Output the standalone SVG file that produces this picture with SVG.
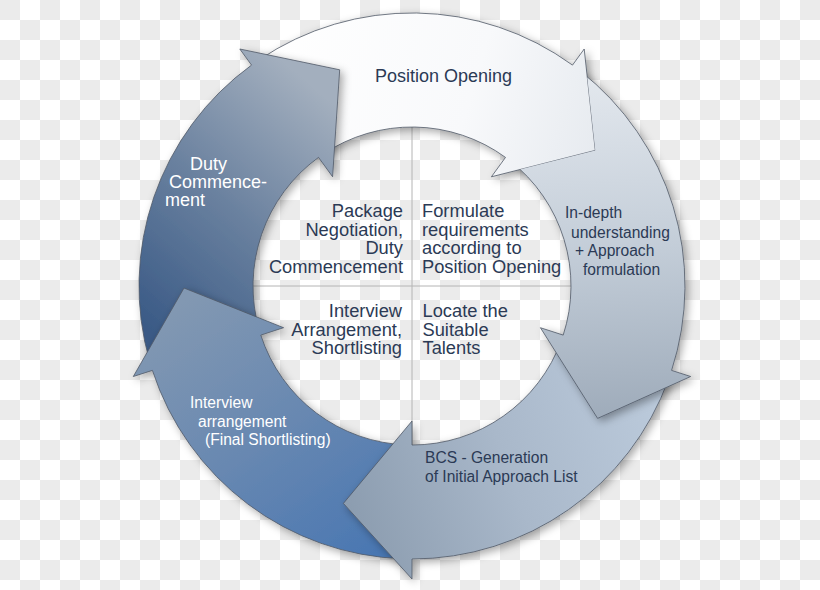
<svg xmlns="http://www.w3.org/2000/svg" width="820" height="590" viewBox="0 0 820 590">
  <defs>
    <pattern id="chk" width="40" height="40" patternUnits="userSpaceOnUse">
      <rect width="40" height="40" fill="#ffffff"/>
      <rect width="20" height="20" fill="#ebebeb"/>
      <rect x="20" y="20" width="20" height="20" fill="#ebebeb"/>
    </pattern>
    <filter id="sh" x="-20%" y="-20%" width="140%" height="140%">
      <feDropShadow dx="3" dy="3" stdDeviation="4" flood-color="#000" flood-opacity="0.35"/>
    </filter>
    <linearGradient id="gE" gradientUnits="userSpaceOnUse" x1="260" y1="60" x2="600" y2="160">
      <stop offset="0" stop-color="#ffffff"/>
      <stop offset="0.6" stop-color="#f8f9fb"/>
      <stop offset="1" stop-color="#e6eaef"/>
    </linearGradient>
    <linearGradient id="gA" gradientUnits="userSpaceOnUse" x1="600" y1="80" x2="620" y2="420">
      <stop offset="0" stop-color="#e2e7ed"/>
      <stop offset="0.5" stop-color="#c3cdd8"/>
      <stop offset="1" stop-color="#9eabba"/>
    </linearGradient>
    <linearGradient id="gB" gradientUnits="userSpaceOnUse" x1="670" y1="400" x2="340" y2="520">
      <stop offset="0" stop-color="#bccbdc"/>
      <stop offset="0.5" stop-color="#a9b8ca"/>
      <stop offset="1" stop-color="#8a9bae"/>
    </linearGradient>
    <linearGradient id="gC" gradientUnits="userSpaceOnUse" x1="200" y1="290" x2="380" y2="550">
      <stop offset="0" stop-color="#8298b2"/>
      <stop offset="0.5" stop-color="#6888b1"/>
      <stop offset="1" stop-color="#4a77b2"/>
    </linearGradient>
    <linearGradient id="gD" gradientUnits="userSpaceOnUse" x1="150" y1="330" x2="340" y2="110">
      <stop offset="0" stop-color="#3a5a86"/>
      <stop offset="0.5" stop-color="#6a819f"/>
      <stop offset="1" stop-color="#a3afbe"/>
    </linearGradient>
    <clipPath id="clipA">
      <path clip-rule="evenodd" d="M0,0 H820 V590 H0 Z M584.2,49 L595.3,150.4 L491.4,176.8 Z"/>
    </clipPath>
  </defs>
  <style>
    .arrow { stroke: #4f5866; stroke-width: 0.8; stroke-linejoin: miter; }
    .t { font-family: "Liberation Sans", Arial, sans-serif; }
    .dark { fill: #2b3a55; }
    .light { fill: #ffffff; }
    .c18 { font-size: 18.3px; }
    .s18 { font-size: 18px; }
    .s15 { font-size: 15.6px; }
    .div { stroke: #b4b4b4; stroke-width: 1; }
  </style>

  <rect width="820" height="590" fill="url(#chk)"/>

  <g id="connectors">
    <line class="div" x1="412" y1="120" x2="412" y2="450"/>
    <line class="div" x1="250" y1="286" x2="574" y2="286"/>
  </g>

  <g id="position-opening">
    <path class="arrow" filter="url(#sh)" fill="url(#gE)" d="M259.3,59.7 A273,273 0 0 1 572.5,65.1 L584.2,49 L595.3,150.4 L491.4,176.8 L505.5,157.4 A159,159 0 0 0 323.1,154.2 Z"/>
    <text class="t dark s18" x="375" y="82">Position Opening</text>
  </g>

  <g id="duty-commencement">
    <path class="arrow" filter="url(#sh)" fill="url(#gD)" d="M149.6,361.3 A273,273 0 0 1 251.5,65.1 L239.8,49 L339.7,69.8 L332.6,176.8 L318.5,157.4 A159,159 0 0 0 259.2,329.8 Z"/>
    <text class="t light s18" x="190" y="170">Duty</text>
    <text class="t light s18" x="169" y="188">Commence-</text>
    <text class="t light s18" x="165" y="206">ment</text>
  </g>

  <g id="interview-arrangement">
    <path class="arrow" filter="url(#sh)" fill="url(#gC)" d="M402.5,558.8 A273,273 0 0 1 152.4,370.4 L133.3,376.5 L184,288 L283.6,327.7 L260.8,335.1 A159,159 0 0 0 406.5,444.9 Z"/>
    <text class="t light s15" x="190" y="408">Interview</text>
    <text class="t light s15" x="198" y="427">arrangement</text>
    <text class="t light s15" x="205" y="445">(Final Shortlisting)</text>
  </g>

  <g id="bcs-generation">
    <path class="arrow" filter="url(#sh)" fill="url(#gB)" d="M668.5,379.4 A273,273 0 0 1 412,559 L412,579 L343.4,503.4 L412,421 L412,445 A159,159 0 0 0 561.4,340.4 Z"/>
    <text class="t dark s15" x="425" y="463">BCS - Generation</text>
    <text class="t dark s15" x="425" y="482">of Initial Approach List</text>
  </g>

  <g id="in-depth-understanding">
    <path class="arrow" filter="url(#sh)" clip-path="url(#clipA)" fill="url(#gA)" d="M580.1,70.9 A273,273 0 0 1 671.6,370.4 L690.7,376.5 L597.6,418.4 L540.4,327.7 L563.2,335.1 A159,159 0 0 0 509.9,160.7 Z"/>
    <text class="t dark s15" x="565" y="218">In-depth</text>
    <text class="t dark s15" x="571" y="238">understanding</text>
    <text class="t dark s15" x="575" y="256">+ Approach</text>
    <text class="t dark s15" x="583" y="275">formulation</text>
  </g>

  <g id="quadrant-package">
    <text class="t dark c18" text-anchor="end" x="403" y="217">Package</text>
    <text class="t dark c18" text-anchor="end" x="403" y="235.5">Negotiation,</text>
    <text class="t dark c18" text-anchor="end" x="403" y="254">Duty</text>
    <text class="t dark c18" text-anchor="end" x="403" y="272.5">Commencement</text>
  </g>

  <g id="quadrant-formulate">
    <text class="t dark c18" x="422" y="217">Formulate</text>
    <text class="t dark c18" x="422" y="235.5">requirements</text>
    <text class="t dark c18" x="422" y="254">according to</text>
    <text class="t dark c18" x="422" y="272.5">Position Opening</text>
  </g>

  <g id="quadrant-interview">
    <text class="t dark c18" text-anchor="end" x="402" y="317">Interview</text>
    <text class="t dark c18" text-anchor="end" x="402" y="335.5">Arrangement,</text>
    <text class="t dark c18" text-anchor="end" x="402" y="354">Shortlisting</text>
  </g>

  <g id="quadrant-locate">
    <text class="t dark c18" x="422.5" y="317">Locate the</text>
    <text class="t dark c18" x="422.5" y="335.5">Suitable</text>
    <text class="t dark c18" x="422.5" y="354">Talents</text>
  </g>
</svg>
